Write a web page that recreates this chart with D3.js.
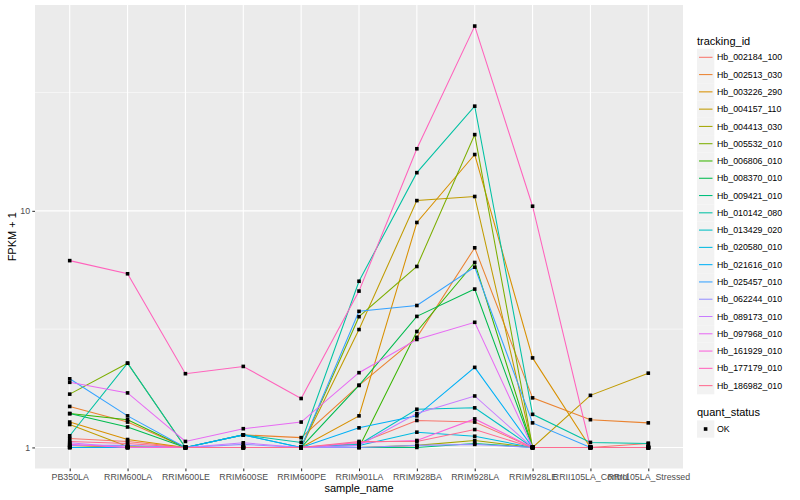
<!DOCTYPE html>
<html><head><meta charset="utf-8">
<script src="https://cdn.jsdelivr.net/npm/d3@7"></script>
<style>body{margin:0;background:#fff}svg{display:block}text{font-family:"Liberation Sans",Arial,Helvetica,sans-serif}</style>
</head><body><svg id="c" width="800" height="500"></svg>
<script>
const samples = ["PB350LA","RRIM600LA","RRIM600LE","RRIM600SE","RRIM600PE","RRIM901LA","RRIM928BA","RRIM928LA","RRIM928LE","RRII105LA_Control","RRII105LA_Stressed"];
const trackingIds = ["Hb_002184_100","Hb_002513_030","Hb_003226_290","Hb_004157_110","Hb_004413_030","Hb_005532_010","Hb_006806_010","Hb_008370_010","Hb_009421_010","Hb_010142_080","Hb_013429_020","Hb_020580_010","Hb_021616_010","Hb_025457_010","Hb_062244_010","Hb_089173_010","Hb_097968_010","Hb_161929_010","Hb_177179_010","Hb_186982_010"];
const colors = ["#F8766D","#EA8331","#D89000","#C09B00","#A3A500","#7CAE00","#39B600","#00BB4E","#00BF7D","#00C1A3","#00BFC4","#00BAE0","#00B0F6","#35A2FF","#9590FF","#C77CFF","#E76BF3","#FA62DB","#FF62BC","#FF6C91"];
// FPKM + 1 per tracking id, in sample order
const v_002184_100 = [1.09,1.06,1.0,1.0,1.0,1.04,1.30,1.28,1.0,1.0,1.04];
const v_002513_030 = [1.49,1.28,1.0,1.13,1.10,1.83,2.92,6.98,1.62,1.31,1.27];
const v_003226_290 = [1.28,1.08,1.0,1.0,1.0,1.36,8.93,17.3,2.39,1.0,1.0];
const v_004157_110 = [1.25,1.01,1.0,1.0,1.0,3.15,11.05,11.5,1.0,1.66,2.06];
const v_004413_030 = [1.02,1.0,1.0,1.0,1.0,1.0,1.02,1.07,1.0,1.0,1.0];
const v_005532_010 = [1.68,2.27,1.0,1.0,1.0,3.57,5.82,21.0,1.0,1.0,1.0];
const v_006806_010 = [1.39,1.31,1.0,1.0,1.0,1.0,3.09,6.05,1.0,1.0,1.0];
const v_008370_010 = [1.39,1.22,1.0,1.0,1.0,1.83,3.58,4.67,1.0,1.0,1.0];
const v_009421_010 = [1.0,1.0,1.0,1.0,1.0,1.0,1.0,1.04,1.0,1.0,1.0];
const v_010142_080 = [1.12,2.27,1.0,1.13,1.05,5.04,14.5,27.7,1.38,1.05,1.04];
const v_013429_020 = [1.0,1.0,1.0,1.13,1.0,1.03,1.45,1.47,1.0,1.0,1.0];
const v_020580_010 = [1.0,1.0,1.0,1.0,1.0,1.02,1.16,1.115,1.0,1.0,1.0];
const v_021616_010 = [1.0,1.0,1.0,1.13,1.0,1.21,1.36,2.18,1.0,1.0,1.0];
const v_025457_010 = [1.95,1.36,1.0,1.0,1.0,3.76,3.98,5.78,1.27,1.0,1.0];
const v_062244_010 = [1.02,1.02,1.0,1.03,1.0,1.0,1.02,1.03,1.0,1.0,1.0];
const v_089173_010 = [1.046,1.0,1.0,1.046,1.0,1.02,1.39,1.65,1.0,1.0,1.0];
const v_097968_010 = [1.885,1.70,1.06,1.20,1.28,2.07,2.86,3.38,1.0,1.0,1.0];
const v_161929_010 = [1.03,1.0,1.0,1.0,1.0,1.05,1.07,1.32,1.0,1.0,1.0];
const v_177179_010 = [6.16,5.42,2.05,2.2,1.61,4.58,18.3,60.4,10.46,1.0,1.0];
const v_186982_010 = [1.06,1.04,1.0,1.0,1.0,1.06,1.06,1.19,1.0,1.0,1.0];
const seriesValues = [v_002184_100,v_002513_030,v_003226_290,v_004157_110,v_004413_030,v_005532_010,v_006806_010,v_008370_010,v_009421_010,v_010142_080,v_013429_020,v_020580_010,v_021616_010,v_025457_010,v_062244_010,v_089173_010,v_097968_010,v_161929_010,v_177179_010,v_186982_010];
const yTicks = [1,10];
const yMinor = [Math.sqrt(10), Math.sqrt(1000)];

const svg = d3.select("#c");
const L=35, R=683, T=5, B=468.5;
const x = d3.scalePoint().domain(samples).range([L,R]).padding(0.6);
const all = seriesValues.flat();
const lmin = Math.log10(d3.min(all)), lmax = Math.log10(d3.max(all));
const ex = (lmax-lmin)*0.05;
const y = d3.scaleLog().domain([Math.pow(10,lmin-ex), Math.pow(10,lmax+ex)]).range([B,T]);

svg.append("rect").attr("x",L).attr("y",T).attr("width",R-L).attr("height",B-T).attr("fill","#EBEBEB");
const g = svg.append("g");
yMinor.forEach(v=>g.append("line").attr("x1",L).attr("x2",R).attr("y1",y(v)).attr("y2",y(v)).attr("stroke","#fff").attr("stroke-width",0.55));
yTicks.forEach(v=>g.append("line").attr("x1",L).attr("x2",R).attr("y1",y(v)).attr("y2",y(v)).attr("stroke","#fff").attr("stroke-width",1.1));
samples.forEach(s=>g.append("line").attr("x1",x(s)).attr("x2",x(s)).attr("y1",T).attr("y2",B).attr("stroke","#fff").attr("stroke-width",1.1));

const line = d3.line().x((d,i)=>x(samples[i])).y(d=>y(d));
seriesValues.forEach((vals,k)=>{
  svg.append("path").attr("d",line(vals)).attr("fill","none").attr("stroke",colors[k]).attr("stroke-width",1.05);
});
seriesValues.forEach(vals=>{
  vals.forEach((v,i)=>svg.append("rect").attr("x",x(samples[i])-1.8).attr("y",y(v)-1.8).attr("width",3.6).attr("height",3.6).attr("fill","#000"));
});

// axes
const xa = svg.append("g").attr("transform",`translate(0,${B})`).call(d3.axisBottom(x).tickSize(2.7).tickPadding(2.2));
const ya = svg.append("g").attr("transform",`translate(${L},0)`).call(d3.axisLeft(y).tickValues(yTicks).tickFormat(d3.format("d")).tickSize(2.7).tickPadding(2.2));
[xa,ya].forEach(a=>{a.select(".domain").remove();a.selectAll("line").attr("stroke","#333").attr("stroke-width",1.05);a.selectAll("text").attr("fill","#4D4D4D").style("font-size","8.8px").style("font-family","'Liberation Sans',Arial,sans-serif");});
svg.append("text").attr("x",(L+R)/2).attr("y",492).attr("text-anchor","middle").style("font-size","11px").text("sample_name");
svg.append("text").attr("transform",`translate(15.5,${(T+B)/2}) rotate(-90)`).attr("text-anchor","middle").style("font-size","11px").text("FPKM + 1");

// legend
const lg = svg.append("g");
lg.append("text").attr("x",697).attr("y",44.5).style("font-size","11px").text("tracking_id");
trackingIds.forEach((id,i)=>{
  const cy = 57.3 + i*17.28;
  lg.append("rect").attr("x",697).attr("y",cy-8.6).attr("width",17.3).attr("height",17.3).attr("fill","#F2F2F2");
  lg.append("line").attr("x1",699).attr("x2",712.5).attr("y1",cy).attr("y2",cy).attr("stroke",colors[i]).attr("stroke-width",1.05);
  lg.append("text").attr("x",717).attr("y",cy+3.1).style("font-size","8.8px").text(id);
});
lg.append("text").attr("x",697).attr("y",415.5).style("font-size","11px").text("quant_status");
lg.append("rect").attr("x",697).attr("y",429-8.6).attr("width",17.3).attr("height",17.3).attr("fill","#F2F2F2");
lg.append("rect").attr("x",705.6-1.8).attr("y",429-1.8).attr("width",3.6).attr("height",3.6).attr("fill","#000");
lg.append("text").attr("x",717).attr("y",432.1).style("font-size","8.8px").text("OK");
</script></body></html>
